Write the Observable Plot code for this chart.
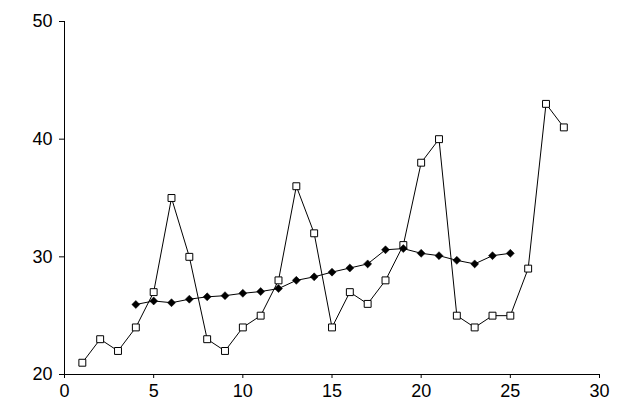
<!DOCTYPE html>
<html>
<head>
<meta charset="utf-8">
<script src="https://cdn.jsdelivr.net/npm/d3@7"></script>
<script src="https://cdn.jsdelivr.net/npm/@observablehq/plot@0.6"></script>
<style>
  html, body { margin: 0; padding: 0; background: #fff; }
  #chart svg { display: block; }
</style>
</head>
<body>
<div id="chart"></div>
<script>
// Series 1: observed values (square markers)
const obsX = [1,2,3,4,5,6,7,8,9,10,11,12,13,14,15,16,17,18,19,20,21,22,23,24,25,26,27,28];
const obsY = [21,23,22,24,27,35,30,23,22,24,25,28,36,32,24,27,26,28,31,38,40,25,24,25,25,29,43,41];
// Series 2: moving average (filled diamond markers)
const maX = [4,5,6,7,8,9,10,11,12,13,14,15,16,17,18,19,20,21,22,23,24,25];
const maY = [25.95,26.25,26.1,26.4,26.6,26.7,26.9,27.05,27.3,28.0,28.3,28.7,29.05,29.4,30.6,30.7,30.3,30.1,29.7,29.4,30.1,30.3];
const xTicks = [0,5,10,15,20,25,30];
const yTicks = [20,30,40,50];

const obs = obsX.map((x, i) => ({x, y: obsY[i]}));
const ma = maX.map((x, i) => ({x, y: maY[i]}));

const chart = Plot.plot({
  width: 626,
  height: 416,
  marginLeft: 64,
  marginRight: 27,
  marginTop: 21,
  marginBottom: 42,
  style: {fontFamily: "'Liberation Sans', Arial, sans-serif", fontSize: "18px", color: "#000", background: "#fff"},
  x: {domain: [0, 30]},
  y: {domain: [20, 50]},
  marks: [
    Plot.axisX({ticks: xTicks, tickSize: 4, tickPadding: 6, label: null, fontSize: 18}),
    Plot.axisY({ticks: yTicks, tickSize: 5, tickPadding: 7, label: null, fontSize: 18}),
    Plot.ruleX([0], {stroke: "#000", strokeWidth: 1}),
    Plot.ruleY([20], {stroke: "#000", strokeWidth: 1}),
    Plot.line(obs, {x: "x", y: "y", stroke: "#000", strokeWidth: 1}),
    Plot.line(ma, {x: "x", y: "y", stroke: "#000", strokeWidth: 1}),
    Plot.dot(obs, {x: "x", y: "y", symbol: "square", r: 3.9, fill: "#fff", stroke: "#000", strokeWidth: 1}),
    Plot.dot(ma, {x: "x", y: "y", symbol: "diamond2", r: 3.6, fill: "#000", stroke: "#000", strokeWidth: 0.5})
  ]
});
document.getElementById("chart").appendChild(chart);
</script>
</body>
</html>
